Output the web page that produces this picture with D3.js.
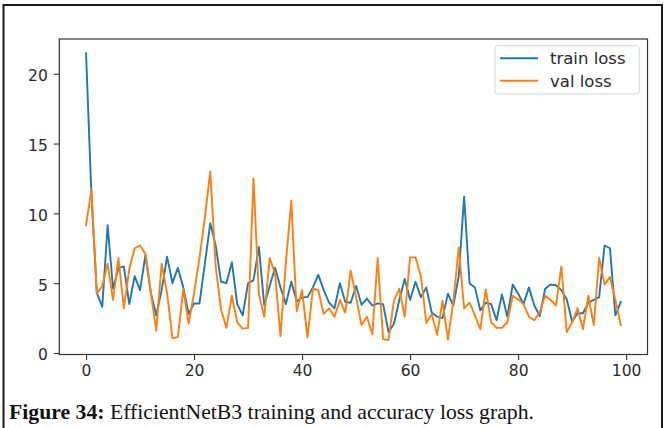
<!DOCTYPE html>
<html>
<head>
<meta charset="utf-8">
<script src="https://cdn.jsdelivr.net/npm/d3@7"></script>
<style>
  html, body { margin: 0; padding: 0; background: #fff; }
  svg { display: block; }
</style>
</head>
<body>
<svg id="chart" width="667" height="428"></svg>
<script>
// ---- data ----
const epochs = d3.range(0, 100);
const trainLoss = [
  21.46, 11.3, 4.3, 3.3, 9.15, 4.6, 6.1, 6.2, 3.5, 5.5,
  4.5, 7.0, 4.3, 2.7, 4.5, 6.9, 5.0, 6.1, 4.7, 2.8,
  3.55, 3.55, 6.4, 9.3, 7.7, 5.1, 5.0, 6.5, 3.5, 2.7,
  5.0, 5.2, 7.6, 3.4, 4.8, 6.1, 4.7, 3.5, 5.1, 3.7,
  4.0, 4.0, 4.7, 5.6, 4.5, 3.6, 3.2, 5.0, 3.65, 3.6,
  4.8, 3.45, 3.9, 3.4, 3.55, 3.5, 1.5, 2.1, 3.8, 5.3,
  3.8, 5.1, 4.0, 4.7, 2.9, 2.6, 2.5, 4.25, 3.4, 5.5,
  11.2, 5.0, 4.7, 3.05, 3.6, 3.5, 2.35, 4.2, 2.6, 4.9,
  4.25, 3.5, 4.7, 3.4, 2.65, 4.6, 4.9, 4.85, 4.5, 3.85,
  2.25, 2.85, 2.85, 3.6, 3.8, 4.0, 7.7, 7.5, 2.7, 3.65
];
const valLoss = [
  9.15, 11.7, 4.25, 4.8, 6.4, 3.8, 6.8, 3.2, 6.0, 7.5,
  7.7, 7.1, 4.3, 1.6, 6.4, 4.3, 1.05, 1.15, 4.6, 2.1,
  4.3, 6.8, 9.7, 13.0, 6.2, 3.1, 1.8, 4.1, 2.2, 1.75,
  1.8, 12.5, 4.2, 2.6, 6.8, 5.7, 1.2, 6.5, 10.9, 3.0,
  4.5, 1.1, 4.6, 4.5, 2.8, 3.2, 2.6, 3.8, 2.9, 5.9,
  4.0, 2.0, 2.6, 1.35, 6.8, 1.0, 0.92, 3.75, 4.6, 2.6,
  6.85, 6.85, 5.5, 2.15, 2.8, 1.3, 3.75, 0.95, 3.7, 7.55,
  3.2, 3.6, 2.7, 1.7, 4.55, 2.2, 1.8, 1.8, 2.2, 4.1,
  3.85, 3.5, 2.6, 2.35, 2.9, 4.1, 3.8, 3.4, 6.2, 1.5,
  2.2, 3.2, 1.7, 4.1, 2.0, 6.8, 4.9, 5.45, 3.8, 2.0
];
const seriesNames = ["train loss", "val loss"];
const seriesColors = ["#1f77b4", "#ff7f0e"];
const xTicks = [0, 20, 40, 60, 80, 100];
const yTicks = [0, 5, 10, 15, 20];
const captionBold = "Figure 34:";
const captionText = " EfficientNetB3 training and accuracy loss graph.";

// ---- layout ----
const svg = d3.select("#chart");
const frame = { left: 59.3, right: 647.5, top: 39, bottom: 354.5 };

// matplotlib-style 5% margins
const xExt = d3.extent(epochs);
const xPad = (xExt[1] - xExt[0]) * 0.05;
const allVals = trainLoss.concat(valLoss);
const yExt = d3.extent(allVals);
const yPad = (yExt[1] - yExt[0]) * 0.05;

const x = d3.scaleLinear().domain([xExt[0] - xPad, xExt[1] + xPad]).range([frame.left, frame.right]);
const y = d3.scaleLinear().domain([yExt[0] - yPad, yExt[1] + yPad]).range([frame.bottom, frame.top]);

// outer figure border
svg.append("path")
  .attr("d", "M3.5,428 L3.5,5 L662,5 L662,428")
  .attr("fill", "none").attr("stroke", "#1a1a1a").attr("stroke-width", 2);

// lines
const series = [trainLoss, valLoss];
const line = d3.line().x((d, i) => x(epochs[i])).y(d => y(d));
series.forEach((s, k) => {
  svg.append("path")
    .datum(s)
    .attr("d", line)
    .attr("fill", "none")
    .attr("stroke", seriesColors[k])
    .attr("stroke-width", 1.9)
    .attr("stroke-linejoin", "round")
    .attr("stroke-linecap", "square");
});

// axes
const fontFam = "'DejaVu Sans', sans-serif";
const xAxis = svg.append("g")
  .attr("transform", `translate(0,${frame.bottom})`)
  .call(d3.axisBottom(x).tickValues(xTicks).tickSize(5.5).tickPadding(5).tickFormat(d3.format("d")));
const yAxis = svg.append("g")
  .attr("transform", `translate(${frame.left},0)`)
  .call(d3.axisLeft(y).tickValues(yTicks).tickSize(5.5).tickPadding(6).tickFormat(d3.format("d")));
[xAxis, yAxis].forEach(g => {
  g.select(".domain").remove();
  g.selectAll(".tick line").attr("stroke", "#333").attr("stroke-width", 1.1);
  g.selectAll(".tick text")
    .attr("font-family", fontFam).attr("font-size", 15.5).attr("fill", "#2a2a2a");
});
yAxis.selectAll(".tick text").attr("dy", "0.45em");

// plot frame
svg.append("rect")
  .attr("x", frame.left).attr("y", frame.top)
  .attr("width", frame.right - frame.left).attr("height", frame.bottom - frame.top)
  .attr("fill", "none").attr("stroke", "#333").attr("stroke-width", 1.2);

// legend
const lg = svg.append("g");
lg.append("rect")
  .attr("x", 495).attr("y", 45.7).attr("width", 144.3).attr("height", 48.3)
  .attr("rx", 3).attr("fill", "#fff").attr("stroke", "#d4d4d4").attr("stroke-width", 1);
seriesNames.forEach((name, k) => {
  const yy = 58.3 + k * 22.4;
  lg.append("line")
    .attr("x1", 500).attr("x2", 538).attr("y1", yy).attr("y2", yy)
    .attr("stroke", seriesColors[k]).attr("stroke-width", 1.9);
  lg.append("text")
    .attr("x", 550).attr("y", yy).attr("dy", "0.36em")
    .attr("font-family", fontFam).attr("font-size", 16.5).attr("fill", "#2a2a2a")
    .text(name);
});

// caption
const cap = svg.append("text")
  .attr("x", 9).attr("y", 419)
  .attr("font-family", "'Liberation Serif', serif").attr("font-size", 21).attr("fill", "#111")
  .attr("textLength", 525).attr("lengthAdjust", "spacingAndGlyphs");
cap.append("tspan").attr("font-weight", "bold").text(captionBold);
cap.append("tspan").text(captionText);
</script>
</body>
</html>
